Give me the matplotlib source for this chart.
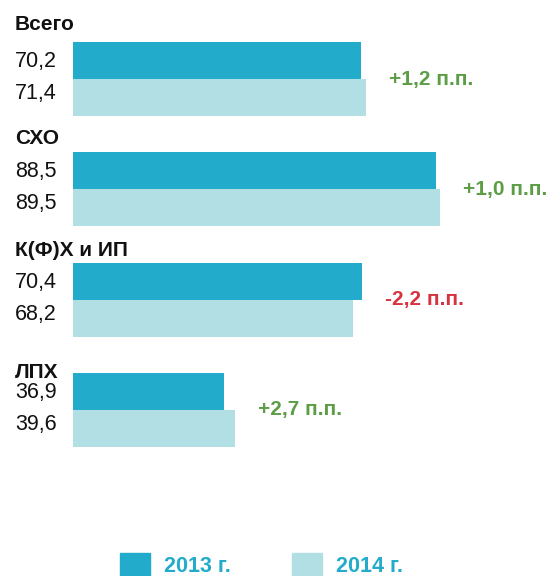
import matplotlib.pyplot as plt
from matplotlib.patches import Rectangle

plt.rcParams['font.family'] = ['Liberation Sans', 'DejaVu Sans']

groups = ["Всего", "СХО", "К(Ф)Х и ИП", "ЛПХ"]
vals_2013 = [70.2, 88.5, 70.4, 36.9]
vals_2014 = [71.4, 89.5, 68.2, 39.6]
deltas = ["+1,2 п.п.", "+1,0 п.п.", "-2,2 п.п.", "+2,7 п.п."]
years = ["2013 г.", "2014 г."]

c13 = "#22abca"
c14 = "#b2dfe3"
green = "#5b9e45"
red = "#d8323f"

W, H = 554, 576
fig = plt.figure(figsize=(W / 100, H / 100), dpi=100)

# x in data units (bars start at px 73), y in pixels from the top
scale = 4.1
x0 = 73
ax = fig.add_axes([0, 0, 1, 1])
ax.set_xlim(-x0 / scale, (W - x0) / scale)
ax.set_ylim(H, 0)
ax.axis("off")

bh = 37
top0 = 42
step = 110.3
label_off = [17, 14, 12, 0]

def fmt(v):
    return f"{v:.1f}".replace(".", ",")

lx = -58 / scale
for i, g in enumerate(groups):
    top = top0 + i * step
    y1 = top + bh / 2
    y2 = top + bh * 1.5
    ax.barh(y1, vals_2013[i], height=bh, color=c13, left=0)
    ax.barh(y2, vals_2014[i], height=bh, color=c14, left=0)
    ax.text(lx, top - label_off[i], g, fontsize=15, fontweight="bold",
            va="center", ha="left", color="#111111")
    ax.text(lx, y1 + 1, fmt(vals_2013[i]), fontsize=15.5, va="center",
            ha="left", color="#111111")
    ax.text(lx, y2 - 4, fmt(vals_2014[i]), fontsize=15.5, va="center",
            ha="left", color="#111111")
    col = red if deltas[i].startswith("-") else green
    ax.text(max(vals_2013[i], vals_2014[i]) + 23 / scale, top + bh, deltas[i],
            fontsize=15, fontweight="bold", va="center", ha="left", color=col)

# legend
lg = fig.add_axes([0, 0, 1, 1])
lg.set_xlim(0, W)
lg.set_ylim(H, 0)
lg.axis("off")
for x, c, t in [(120, c13, years[0]), (292, c14, years[1])]:
    lg.add_patch(Rectangle((x, 553), 30, 30, color=c))
    lg.text(x + 44, 567, t, fontsize=15.5, fontweight="bold", color=c13,
            va="center", ha="left")

fig.savefig("out.png", dpi=100)
